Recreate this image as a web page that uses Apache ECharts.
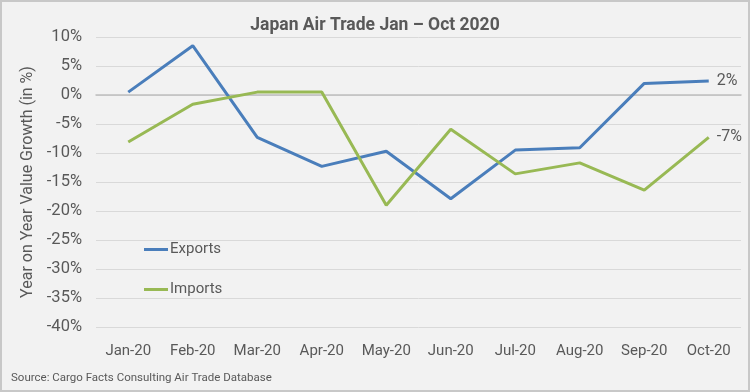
<!DOCTYPE html>
<html><head><meta charset="utf-8">
<script src="https://cdn.jsdelivr.net/npm/echarts@6/dist/echarts.min.js"></script>
<style>
html,body{margin:0;padding:0;background:#fff;}
#wrap{position:absolute;left:0;top:0;width:746px;height:388px;border:2px solid #c8c8c8;background:#f2f2f2;}
#c{width:746px;height:388px;}
</style></head><body>
<div id="wrap"><div id="c"></div></div>
<script>
const categories = ['Jan-20','Feb-20','Mar-20','Apr-20','May-20','Jun-20','Jul-20','Aug-20','Sep-20','Oct-20'];
const exportsVals = [0.5, 8.5, -7.3, -12.3, -9.7, -17.9, -9.5, -9.1, 2.0, 2.4];
const importsVals = [-8.1, -1.6, 0.5, 0.5, -19.0, -5.9, -13.6, -11.7, -16.4, -7.3];
const endLabels = ['2%', '-7%'];

const chart = echarts.init(document.getElementById('c'));
const txt = '#595959';
function endLabel(lbl){
  return {show:true, distance:8, formatter:lbl, color:txt, fontSize:16, fontFamily:'Roboto'};
}
chart.setOption({
  backgroundColor:'#f2f2f2',
  textStyle:{fontFamily:'Roboto'},
  title:{text:'Japan Air Trade Jan \u2013 Oct 2020', left:'center', top:10,
    textStyle:{fontSize:17.5, fontWeight:'bold', color:txt, fontFamily:'Roboto'}},
  grid:{left:94, right:7, top:35, bottom:63},
  legend:[
    {data:['Exports'], left:137, top:235, icon:'rect', itemWidth:24, itemHeight:3, itemGap:2,
      textStyle:{color:txt, fontSize:15, fontFamily:'Roboto', padding:[0,0,0,-3]}},
    {data:['Imports'], left:137, top:275, icon:'rect', itemWidth:24, itemHeight:3, itemGap:2,
      textStyle:{color:txt, fontSize:15, fontFamily:'Roboto', padding:[0,0,0,-3]}}
  ],
  xAxis:{type:'category', data:categories, boundaryGap:true,
    axisLine:{show:true, onZero:true, lineStyle:{color:'#bfbfbf', width:1.5}},
    axisTick:{show:false},
    axisLabel:{color:txt, fontSize:15, margin:17, fontFamily:'Roboto'}},
  yAxis:{type:'value', min:-40, max:10, interval:5,
    name:'Year on Year Value Growth (in %)', nameLocation:'middle', nameGap:58, nameRotate:90,
    nameTextStyle:{color:txt, fontSize:16, fontFamily:'Roboto'},
    axisLine:{show:false}, axisTick:{show:false},
    axisLabel:{color:txt, fontSize:16.5, margin:14, formatter:'{value}%', fontFamily:'Roboto'},
    splitLine:{lineStyle:{color:'#d9d9d9', width:1}}},
  series:[
    {name:'Exports', type:'line', data:exportsVals, symbol:'none',
      endLabel:endLabel(endLabels[0]),
      lineStyle:{color:'#4a7ebb', width:3}, itemStyle:{color:'#4a7ebb'}},
    {name:'Imports', type:'line', data:importsVals, symbol:'none',
      endLabel:endLabel(endLabels[1]),
      lineStyle:{color:'#98b954', width:3}, itemStyle:{color:'#98b954'}}
  ],
  graphic:[{type:'text', left:9, top:370, style:{text:'Source: Cargo Facts Consulting Air Trade Database', fill:txt, fontSize:11.5, fontFamily:'Roboto'}}]
});
</script>
</body></html>
